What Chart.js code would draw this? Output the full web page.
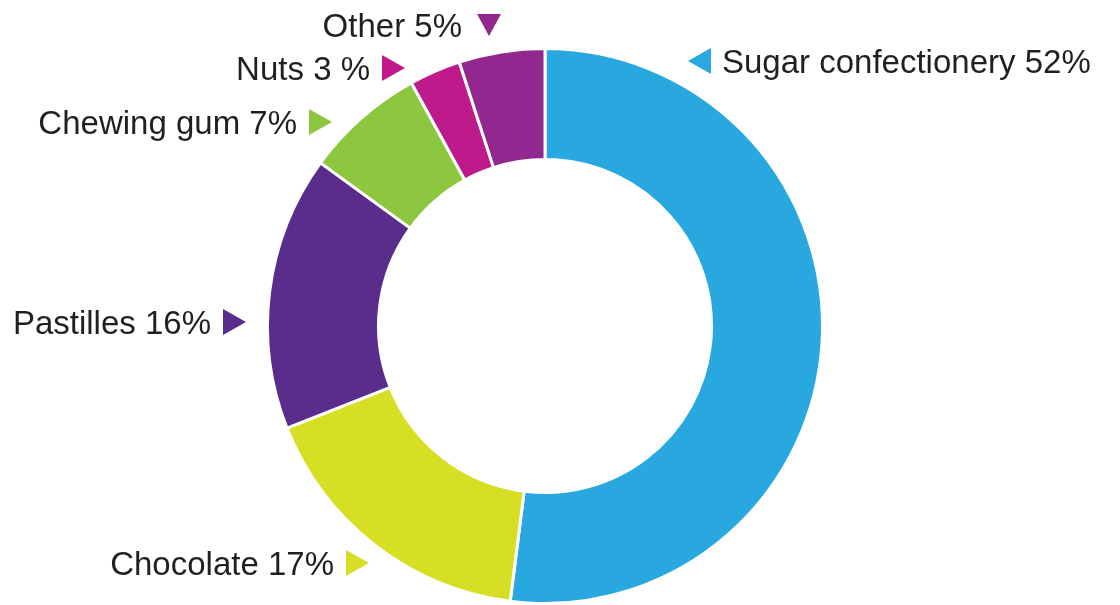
<!DOCTYPE html>
<html>
<head>
<meta charset="utf-8">
<script src="https://cdn.jsdelivr.net/npm/chart.js@4/dist/chart.umd.min.js"></script>
<style>
  html, body { margin: 0; padding: 0; background: #fff; }
  #wrap { width: 1120px; height: 605px; position: relative; }
</style>
</head>
<body>
<div id="wrap"><canvas id="confectionery"></canvas></div>
<script>
// market shares, clockwise from 12 o'clock
const categories = ["Sugar confectionery", "Chocolate", "Pastilles", "Chewing gum", "Nuts", "Other"];
const shares = [52, 17, 16, 7, 3, 5];
const shareLabels = ["52%", "17%", "16%", "7%", "3 %", "5%"];
const colors = ["#29a8e0", "#d6df23", "#5a2d8c", "#8dc63f", "#bf1a8b", "#92278f"];

// where each callout sits: marker centre, pointing direction
const callouts = [
  { x: 700, y: 61, dir: "left" },
  { x: 357, y: 563, dir: "right" },
  { x: 234, y: 322, dir: "right" },
  { x: 320, y: 122, dir: "right" },
  { x: 393, y: 68, dir: "right" },
  { x: 489, y: 25, dir: "down" }
];

const FONT = "33px 'Liberation Sans', Arial, sans-serif";

function triangle(ctx, x, y, dir) {
  ctx.beginPath();
  if (dir === "right") {
    ctx.moveTo(x - 11, y - 13);
    ctx.lineTo(x + 12, y);
    ctx.lineTo(x - 11, y + 13);
  } else if (dir === "left") {
    ctx.moveTo(x + 11, y - 13);
    ctx.lineTo(x - 12, y);
    ctx.lineTo(x + 11, y + 13);
  } else {
    ctx.moveTo(x - 12, y - 11);
    ctx.lineTo(x + 12, y - 11);
    ctx.lineTo(x, y + 11);
  }
  ctx.closePath();
  ctx.fill();
}

const calloutPlugin = {
  id: "callouts",
  afterDraw(chart) {
    const ctx = chart.ctx;
    const ds = chart.data.datasets[0];
    ctx.save();
    ctx.font = FONT;
    ctx.textBaseline = "alphabetic";
    chart.data.labels.forEach((name, i) => {
      const c = callouts[i];
      ctx.fillStyle = ds.backgroundColor[i];
      triangle(ctx, c.x, c.y, c.dir);
      ctx.fillStyle = "#231f20";
      const text = name + " " + shareLabels[i];
      if (c.dir === "left") {
        ctx.textAlign = "left";
        ctx.fillText(text, c.x + 22, c.y + 12);
      } else {
        ctx.textAlign = "right";
        ctx.fillText(text, c.x - (c.dir === "down" ? 27 : 23), c.y + 12);
      }
    });
    ctx.restore();
  }
};

new Chart(document.getElementById("confectionery"), {
  type: "doughnut",
  data: {
    labels: categories,
    datasets: [{
      data: shares,
      backgroundColor: colors,
      borderColor: "#ffffff",
      borderWidth: 3,
      hoverOffset: 0,
      offset: 0
    }]
  },
  options: {
    responsive: true,
    maintainAspectRatio: false,
    animation: false,
    cutout: "60%",
    layout: { padding: { top: 47, bottom: 0, left: 0, right: 30 } },
    plugins: {
      legend: { display: false },
      tooltip: { enabled: false }
    }
  },
  plugins: [calloutPlugin]
});
</script>
</body>
</html>
